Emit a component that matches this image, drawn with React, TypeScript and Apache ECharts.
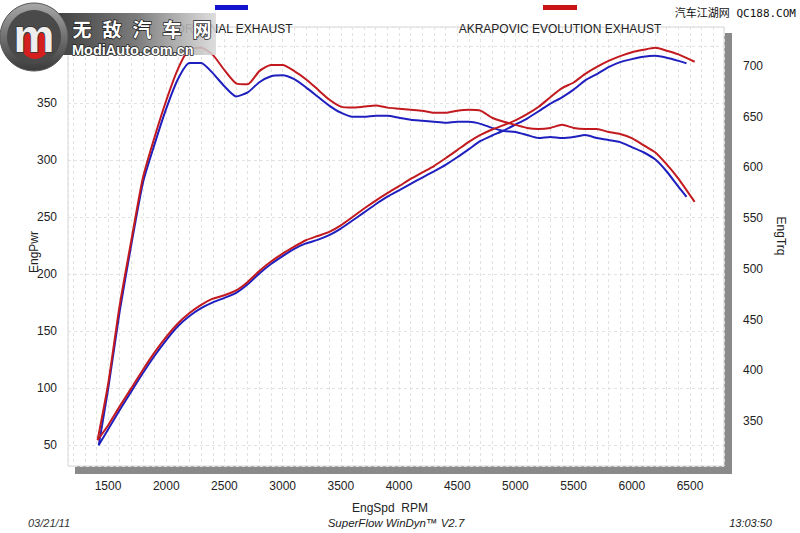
import React, { useEffect, useRef } from 'react';
import * as echarts from 'echarts';

// ---------- data ----------
const rpmStock = [1420,1500,1600,1700,1800,1900,2000,2100,2200,2300,2400,2500,2600,2700,2800,2900,3000,3100,3200,3300,3400,3500,3600,3700,3800,3900,4000,4100,4200,4300,4400,4500,4600,4700,4800,4900,5000,5100,5200,5300,5400,5500,5600,5700,5800,5900,6000,6100,6200,6300,6400,6470];
const stockPower = [50,63.6,80.7,97.1,113.2,128.3,142.1,154.2,163.2,170.1,175.2,179.1,183.5,191.1,200.5,208.8,215.8,222.1,226.9,230.0,234.1,239.9,247.0,254.1,261.3,267.9,273.5,279.1,284.7,290.2,295.9,302.5,309.6,316.8,321.6,326.0,331.2,336.5,342.9,349.5,355.1,361.9,370.0,375.5,381.6,386.0,388.6,390.7,391.5,389.8,387.1,384.9];
const stockTorque = [326,381,458,524,585,623,658,687,703,703,693,680,670,674,684,690,691,687,679,670,661,654,650,650,651,651,649,647,646,645,644,645,645,643,639,636,635,632,629,630,629,630,632,629,627,625,620,615,608,596,581,571];

const rpmAkra = [1410,1500,1600,1700,1800,1900,2000,2100,2200,2300,2400,2500,2600,2700,2800,2900,3000,3100,3200,3300,3400,3500,3600,3700,3800,3900,4000,4100,4200,4300,4400,4500,4600,4700,4800,4900,5000,5100,5200,5300,5400,5500,5600,5700,5800,5900,6000,6100,6200,6300,6400,6540];
const akraPower = [54.4,67.2,83.9,99.9,116.1,131.3,144.9,156.7,165.8,173.0,178.4,181.4,185.6,193.1,202.7,211.0,218.0,224.1,229.7,233.4,237.0,242.8,250.1,257.5,264.5,271.0,277.1,283.5,289.2,294.8,301.6,308.8,316.0,322.1,326.9,330.7,334.9,340.3,346.8,355.2,363.1,368.1,375.7,381.8,387.0,391.2,394.7,396.8,398.5,396.0,392.8,386.3];
const akraTorque = [331,386,464,528,590,630,666,697,717,718,711,696,683,682,695,701,701,695,687,677,667,660,659,660,661,659,658,657,656,654,654,656,657,656,649,645,642,639,638,639,642,639,638,638,635,633,629,622,615,603,589,566];

const rpmTickLabels = [1500,2000,2500,3000,3500,4000,4500,5000,5500,6000,6500];
const pwrTickLabels = [50,100,150,200,250,300,350];
const trqTickLabels = [350,400,450,500,550,600,650,700];

const seriesNames = ['ORIGINAL EXHAUST', 'AKRAPOVIC EVOLUTION EXHAUST'];
const watermarkChars = ['无','敌','汽','车','网'];

const BLUE = '#1f1fbf';
const RED = '#c21a1f';
const FONT = "'Liberation Sans', Arial, sans-serif";

const zip = (xs: number[], ys: number[]) => xs.map((x, i) => [x, ys[i]]);

export default function App() {
  const ref = useRef<HTMLDivElement>(null);
  useEffect(() => {
    document.body.style.margin = '0';
    const chart = echarts.init(ref.current!, null, { renderer: 'svg' });

    const lineSeries = (name: string, xs: number[], ys: number[], axis: number, color: string, z: number) => ({
      name,
      type: 'line',
      xAxisIndex: 0,
      yAxisIndex: axis,
      data: zip(xs, ys),
      symbol: 'none',
      smooth: 0.2,
      lineStyle: { color, width: 2 },
      z,
      silent: true,
    });

    const graphic: any[] = [
      { type: 'rect', z: -10, shape: { x: 75, y: 33, width: 657, height: 441 }, style: { fill: '#8a8a8a' } },
      { type: 'rect', z: -9, shape: { x: 68, y: 27, width: 656, height: 439 }, style: { fill: '#ffffff', stroke: '#d6d6d6', lineWidth: 1 } },
      // legend
      { type: 'rect', z: 50, shape: { x: 215, y: 5, width: 33, height: 5 }, style: { fill: '#1414d0' } },
      { type: 'text', z: 50, x: 234, y: 28.5, style: { text: seriesNames[0], align: 'center', verticalAlign: 'middle', font: `12px ${FONT}`, fill: '#222' } },
      { type: 'rect', z: 50, shape: { x: 543, y: 5, width: 34, height: 5 }, style: { fill: '#c81414' } },
      { type: 'text', z: 50, x: 560, y: 28.5, style: { text: seriesNames[1], align: 'center', verticalAlign: 'middle', font: `12px ${FONT}`, fill: '#222' } },
      // axis names
      { type: 'text', z: 50, x: 34, y: 252, rotation: Math.PI / 2, style: { text: 'EngPwr', align: 'center', verticalAlign: 'middle', font: `12px ${FONT}`, fill: '#222' } },
      { type: 'text', z: 50, x: 781, y: 236, rotation: -Math.PI / 2, style: { text: 'EngTrq', align: 'center', verticalAlign: 'middle', font: `12px ${FONT}`, fill: '#222' } },
      { type: 'text', z: 50, x: 390, y: 508, style: { text: 'EngSpd  RPM', align: 'center', verticalAlign: 'middle', font: `12px ${FONT}`, fill: '#222' } },
      // footer
      { type: 'text', z: 50, x: 28, y: 523, style: { text: '03/21/11', align: 'left', verticalAlign: 'middle', font: `italic 11px ${FONT}`, fill: '#333' } },
      { type: 'text', z: 50, x: 396, y: 523, style: { text: 'SuperFlow WinDyn™ V2.7', align: 'center', verticalAlign: 'middle', font: `italic 11.5px ${FONT}`, fill: '#222' } },
      { type: 'text', z: 50, x: 772, y: 523, style: { text: '13:03:50', align: 'right', verticalAlign: 'middle', font: `italic 11px ${FONT}`, fill: '#222' } },
      // top-right watermark
      { type: 'text', z: 60, x: 796, y: 13, style: { text: '汽车江湖网 QC188.COM', align: 'right', verticalAlign: 'middle', font: "11px 'DejaVu Sans Mono', 'Noto Sans CJK SC', monospace", fill: '#111' } },
      // top-left watermark logo
      { type: 'rect', z: 60, shape: { x: 40, y: 13, width: 176, height: 42 },
        style: { fill: new echarts.graphic.LinearGradient(0, 0, 1, 0, [
          { offset: 0, color: '#333333' }, { offset: 0.55, color: '#7c7c7c' }, { offset: 1, color: 'rgba(215,215,215,0.85)' }]) } },
      { type: 'circle', z: 61, shape: { cx: 34, cy: 37, r: 34 },
        style: { fill: new echarts.graphic.LinearGradient(0, 0, 0, 1, [
          { offset: 0, color: '#a8a8a8' }, { offset: 1, color: '#3a3a3a' }]), stroke: '#555', lineWidth: 1 } },
      { type: 'circle', z: 62, shape: { cx: 34, cy: 37, r: 27 }, style: { fill: '#4a4a4a' } },
      { type: 'circle', z: 63, shape: { cx: 35, cy: 45, r: 14 }, style: { fill: '#d51f1f' } },
      { type: 'text', z: 64, x: 34, y: 36, style: { text: 'm', align: 'center', verticalAlign: 'middle', font: `bold 46px ${FONT}`, fill: '#eeeeee', stroke: '#333', lineWidth: 1.5 } },
      ...watermarkChars.map((ch, i) => ({
        type: 'text', z: 64, x: 82 + i * 30, y: 28.5,
        style: { text: ch, align: 'center', verticalAlign: 'middle', font: "bold 19px 'Noto Sans CJK SC', sans-serif", fill: '#ffffff', stroke: '#222', lineWidth: 1.5 },
      })),
      { type: 'text', z: 64, x: 72, y: 50, style: { text: 'ModiAuto.com.cn', align: 'left', verticalAlign: 'middle', font: `bold 14.5px ${FONT}`, fill: '#ffffff', stroke: '#222', lineWidth: 1.5 } },
    ];

    const option: any = {
      animation: false,
      backgroundColor: '#ffffff',
      textStyle: { fontFamily: FONT },
      grid: { left: 68, top: 27, width: 656, height: 439, show: false, containLabel: false },
      xAxis: {
        type: 'value', min: 1156, max: 6792, splitNumber: 60, minInterval: 100, maxInterval: 100,
        axisLine: { show: false }, axisTick: { show: false },
        axisLabel: { margin: 14, color: '#222', fontSize: 12, fontFamily: FONT, showMinLabel: false, showMaxLabel: false,
          formatter: (v: number) => (rpmTickLabels.includes(Math.round(v)) && Math.abs(v - Math.round(v)) < 1e-6 ? String(Math.round(v)) : '') },
        splitLine: { show: true, lineStyle: { color: '#e2e2e2', type: [3, 3], width: 1 } },
      },
      yAxis: [
        {
          type: 'value', position: 'left', min: 31.6, max: 416.8, splitNumber: 8, minInterval: 50, maxInterval: 50,
          axisLine: { show: false }, axisTick: { show: false },
          axisLabel: { margin: 11, color: '#222', fontSize: 12, fontFamily: FONT, showMinLabel: false, showMaxLabel: false,
            formatter: (v: number) => (pwrTickLabels.includes(v) ? String(v) : '') },
          splitLine: { show: true, lineStyle: { color: '#e2e2e2', type: [3, 3], width: 1 } },
        },
        {
          type: 'value', position: 'right', min: 305.6, max: 738.5, splitNumber: 8, minInterval: 50, maxInterval: 50,
          axisLine: { show: false },
          axisTick: { show: false },
          axisLabel: { margin: 19, color: '#222', fontSize: 12, fontFamily: FONT, showMinLabel: false, showMaxLabel: false,
            formatter: (v: number) => (trqTickLabels.includes(v) ? String(v) : '') },
          splitLine: { show: false },
        },
      ],
      series: [
        lineSeries(seriesNames[0], rpmStock, stockPower, 0, BLUE, 3),
        lineSeries(seriesNames[0], rpmStock, stockTorque, 1, BLUE, 3),
        lineSeries(seriesNames[1], rpmAkra, akraPower, 0, RED, 4),
        lineSeries(seriesNames[1], rpmAkra, akraTorque, 1, RED, 4),
      ],
      graphic,
    };

    chart.setOption(option);
    return () => chart.dispose();
  }, []);
  return <div ref={ref} style={{ width: 800, height: 533 }} />;
}
